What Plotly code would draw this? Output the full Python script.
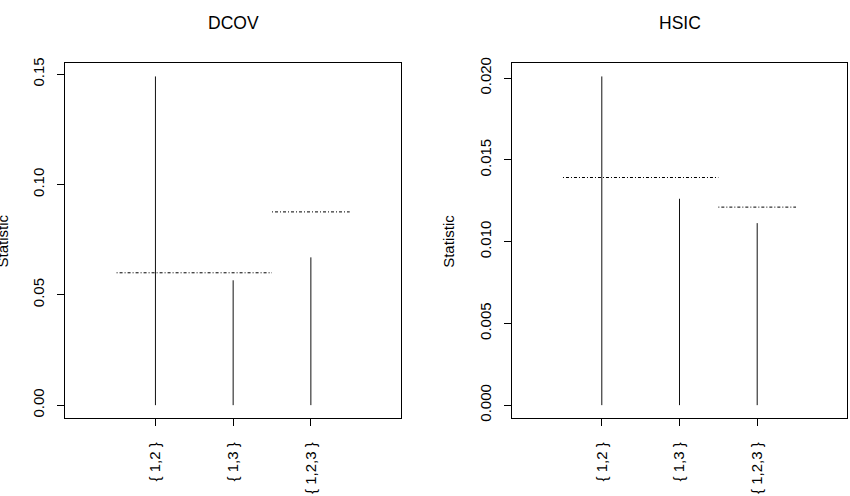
import plotly.graph_objects as go

categories = ["{ 1,2 }", "{ 1,3 }", "{ 1,2,3 }"]
positions = [1, 2, 3]

dcov_values = [0.149, 0.0566, 0.067]
dcov_thresh_levels = [0.060, 0.0876]
dcov_thresh_spans = [(0.5, 2.5), (2.5, 3.5)]
dcov_ticks = [0.00, 0.05, 0.10, 0.15]
dcov_ticklabels = ["0.00", "0.05", "0.10", "0.15"]

hsic_values = [0.0201, 0.01262, 0.01113]
hsic_thresh_levels = [0.01392, 0.01211]
hsic_thresh_spans = [(0.5, 2.5), (2.5, 3.5)]
hsic_ticks = [0.000, 0.005, 0.010, 0.015, 0.020]
hsic_ticklabels = ["0.000", "0.005", "0.010", "0.015", "0.020"]

titles = ["DCOV", "HSIC"]

W, H = 850, 496
FONT = "Liberation Sans, Arial, sans-serif"

fig = go.Figure()

panels = [
    (dcov_values, dcov_thresh_levels, dcov_thresh_spans, dcov_ticks, dcov_ticklabels, "x", "y"),
    (hsic_values, hsic_thresh_levels, hsic_thresh_spans, hsic_ticks, hsic_ticklabels, "x2", "y2"),
]

# plot area pixel boxes
boxes = [(65.3, 401.0), (511.7, 847.3)]
top_px, bot_px = 63.3, 418.3

for i, (vals, levels, spans, ticks, tlabels, xa, ya) in enumerate(panels):
    xs, ys = [], []
    for p, v in zip(positions, vals):
        xs += [p, p, None]
        ys += [0, v, None]
    fig.add_trace(go.Scatter(x=xs, y=ys, mode="lines", xaxis=xa, yaxis=ya,
                             line=dict(color="#111111", width=1), showlegend=False,
                             hoverinfo="skip"))
    hx, hy = [], []
    for (a, b), lv in zip(spans, levels):
        hx += [a, b, None]
        hy += [lv, lv, None]
    fig.add_trace(go.Scatter(x=hx, y=hy, mode="lines", xaxis=xa, yaxis=ya,
                             line=dict(color="black", width=1, dash="1px,2px,3px,2px"),
                             showlegend=False, hoverinfo="skip"))

    ymax = max(vals)
    ylo = -0.04 * ymax
    yhi = ymax * 1.04
    l, r = boxes[i]
    axis_common = dict(showline=True, mirror=True, linecolor="black", linewidth=1,
                       ticks="outside", ticklen=7, tickwidth=1, tickcolor="black",
                       showgrid=False, zeroline=False, automargin=False,
                       tickfont=dict(family=FONT, size=15, color="black"))
    xkey = "xaxis" if i == 0 else "xaxis2"
    ykey = "yaxis" if i == 0 else "yaxis2"
    fig.layout[xkey] = dict(domain=[l / W, r / W], range=[-0.16, 4.16],
                            tickvals=positions, ticktext=categories, tickangle=-90,
                            anchor=ya, ticklabelstandoff=10, **axis_common)
    fig.layout[ykey] = dict(domain=[(H - bot_px) / H, (H - top_px) / H], range=[ylo, yhi],
                            tickvals=ticks, ticktext=tlabels, tickangle=-90,
                            anchor=xa, ticklabelstandoff=7, **axis_common)
    cx = (l + r) / 2 / W
    fig.add_annotation(text=titles[i], x=cx, y=(H - 23) / H, xref="paper", yref="paper",
                       showarrow=False, font=dict(family=FONT, size=17.5, color="black"),
                       xanchor="center", yanchor="middle")
    fig.add_annotation(text="Statistic", x=(l - 62.7) / W, y=(H - (top_px + bot_px) / 2) / H,
                       xref="paper", yref="paper", showarrow=False, textangle=-90,
                       font=dict(family=FONT, size=15, color="black"),
                       xanchor="center", yanchor="middle")

fig.update_layout(width=W, height=H, margin=dict(l=0, r=0, t=0, b=0),
                  paper_bgcolor="white", plot_bgcolor="white")

fig.write_html("out.html")
